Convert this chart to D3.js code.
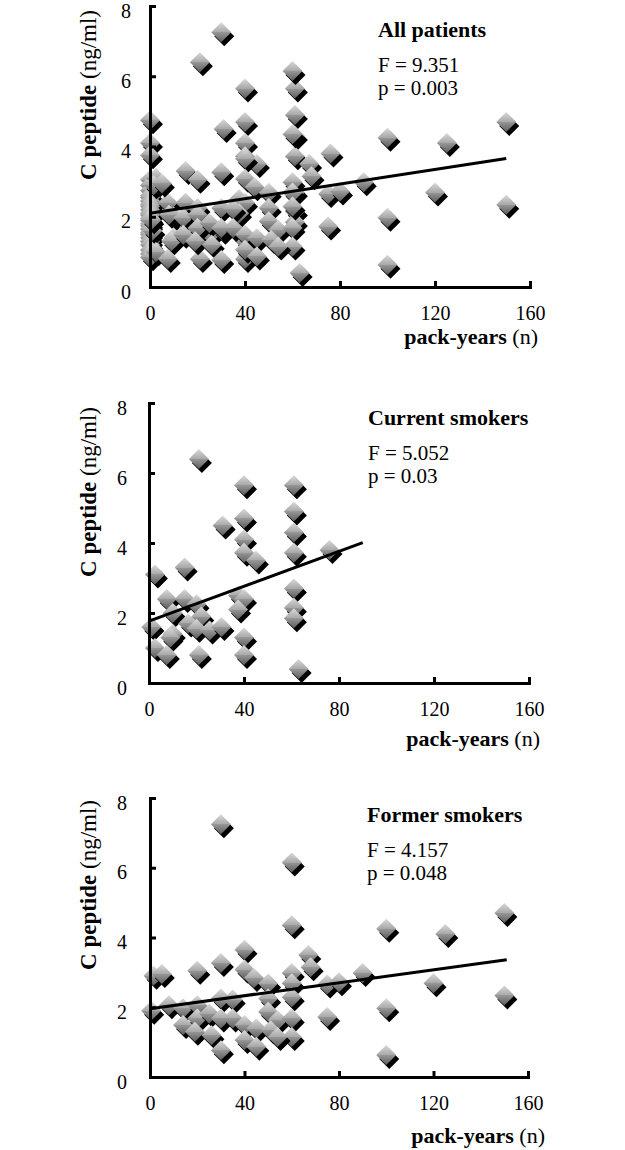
<!DOCTYPE html>
<html>
<head>
<meta charset="utf-8">
<script src="https://cdn.jsdelivr.net/npm/d3@7"></script>
<style>
  body { margin: 0; background: #fff; }
  svg { display: block; }
  .lbl { font-family: "Liberation Serif", "Times New Roman", serif; fill: #000; }
</style>
</head>
<body>
<script>
// C peptide (ng/ml) vs pack-years
// never smokers all sit at 0 pack-years
var neverSmokers = [4.75, 4.1, 3.75, 3.05, 2.9, 2.75, 2.6, 2.55, 2.45, 2.35, 2.3, 2.2, 2.1,
  2.05, 1.95, 1.9, 1.8, 1.75, 1.65, 1.55, 1.5, 1.4, 1.3, 1.2, 1.05, 0.95, 0.85];

var currentSmokers = [
  [21, 6.4], [40, 5.65], [61, 5.65], [61, 4.9], [40, 4.7], [31, 4.5], [40, 4.1], [61, 4.3],
  [40, 3.72], [45, 3.5], [61, 3.72], [76, 3.8], [2.5, 3.1], [15, 3.3], [7.5, 2.4], [15, 2.4],
  [20, 2.25], [10, 2.0], [22, 1.9], [37.5, 2.5], [40, 2.4], [37.5, 2.1], [61, 2.7], [61, 2.15],
  [61, 1.85], [1, 1.6], [16.5, 1.7], [20, 1.55], [25.5, 1.5], [30.5, 1.6], [10, 1.4], [9, 1.3],
  [2.5, 1.0], [7.5, 0.8], [21, 0.8], [40, 1.3], [40, 0.8], [63, 0.4]
];

var formerSmokers = [
  [30, 7.25], [60, 6.15], [60, 4.35], [100, 4.25], [125, 4.1], [150, 4.7], [40, 3.65], [67, 3.5],
  [68, 3.15], [1.5, 2.9], [5, 2.95], [20, 3.05], [30, 3.27], [40, 3.08], [44, 2.84], [60, 2.98],
  [50, 2.68], [60, 2.69], [75, 2.65], [80, 2.72], [90, 2.98], [120, 2.69], [150, 2.34], [0.5, 1.9],
  [8, 2.06], [14, 1.97], [20, 2.06], [30, 2.25], [35, 2.22], [50, 2.25], [60, 2.29], [100, 1.97],
  [75, 1.72], [14, 1.49], [20, 1.68], [25, 1.82], [30, 1.68], [35, 1.68], [40, 1.49], [45, 1.39],
  [50, 1.87], [54, 1.63], [51, 1.34], [60, 1.68], [60, 1.15], [54, 1.15], [19, 1.3], [26, 1.2],
  [40, 1.06], [45, 0.87], [30, 0.77], [100, 0.63]
];

var allPatients = neverSmokers.map(function(v) { return [0, v]; })
  .concat(currentSmokers, formerSmokers);

// regression lines (end points)
var fitAll = [[0, 2.1], [150, 3.66]];
var fitCurrent = [[0, 1.77], [90, 4.01]];
var fitFormer = [[0, 1.96], [151, 3.36]];

var panelTitles = ["All patients", "Current smokers", "Former smokers"];
var statF = ["F = 9.351", "F = 5.052", "F = 4.157"];
var statP = ["p = 0.003", "p = 0.03", "p = 0.048"];
var xTicks = [0, 40, 80, 120, 160];
var yTicks = [0, 2, 4, 6, 8];

var svg = d3.select("body").append("svg")
  .attr("width", 625)
  .attr("height", 1150);

// marker gradient
var defs = svg.append("defs");
var grad = defs.append("linearGradient")
  .attr("id", "dgrad")
  .attr("x1", 0).attr("y1", 0).attr("x2", 0).attr("y2", 1);
grad.append("stop").attr("offset", "0%").attr("stop-color", "#dadada");
grad.append("stop").attr("offset", "50%").attr("stop-color", "#a8a8a8");
grad.append("stop").attr("offset", "50%").attr("stop-color", "#979797");
grad.append("stop").attr("offset", "100%").attr("stop-color", "#5c5c5c");

var diamond = "M0,-10L10,0L0,10L-10,0Z";

var panels = [
  { data: allPatients, fit: fitAll, top: 6, bottom: 287, left: 150, right: 530,
    yPad: 19, titleX: 378, titleY: 37, axTitleX: 538, axTitleY: 344, yTitleY: 95 },
  { data: currentSmokers, fit: fitCurrent, top: 403, bottom: 683, left: 149, right: 529,
    yPad: 22, titleX: 368, titleY: 425, axTitleX: 540, axTitleY: 746, yTitleY: 492 },
  { data: formerSmokers, fit: fitFormer, top: 798, bottom: 1077, left: 150, right: 528,
    yPad: 23, titleX: 367, titleY: 822, axTitleX: 545, axTitleY: 1143, yTitleY: 885 }
];

panels.forEach(function(p, i) {
  var x = d3.scaleLinear().domain([0, 160]).range([p.left, p.right]);
  var y = d3.scaleLinear().domain([0, 8]).range([p.bottom, p.top]);
  var g = svg.append("g");

  // points: shadow + gradient diamond
  var pts = g.selectAll("g.pt")
    .data(p.data)
    .enter()
    .append("g")
    .attr("class", "pt")
    .attr("transform", d => `translate(${x(d[0])},${y(d[1])})`);
  pts.append("path")
    .attr("d", diamond)
    .attr("transform", "translate(3,4)")
    .attr("fill", "#000");
  pts.append("path")
    .attr("d", diamond)
    .attr("fill", "url(#dgrad)");

  // regression line
  g.append("path")
    .datum(p.fit)
    .attr("d", d3.line().x(d => x(d[0])).y(d => y(d[1])))
    .attr("fill", "none")
    .attr("stroke", "#000")
    .attr("stroke-width", 3);

  // axes
  var yAxis = g.append("g")
    .attr("transform", `translate(${p.left},0)`)
    .call(d3.axisLeft(y).tickValues(yTicks).tickSize(-6).tickSizeOuter(0).tickPadding(p.yPad));
  var xAxis = g.append("g")
    .attr("transform", `translate(0,${p.bottom})`)
    .call(d3.axisBottom(x).tickValues(xTicks).tickSize(-6).tickSizeOuter(0).tickPadding(19));
  [xAxis, yAxis].forEach(function(a) {
    a.attr("font-family", "Liberation Serif").attr("font-size", 20);
    a.select(".domain").attr("stroke-width", 3).attr("stroke-linecap", "square");
    a.selectAll(".tick line").attr("stroke-width", 3);
  });
  yAxis.selectAll(".tick text").attr("dy", "0.55em");
  xAxis.selectAll(".tick").filter(d => d === 0).select("line").remove();
  yAxis.selectAll(".tick").filter(d => d === 0).select("line").remove();

  // y axis title
  var yt = g.append("text")
    .attr("class", "lbl")
    .attr("transform", `translate(96,${p.yTitleY}) rotate(-90)`)
    .attr("text-anchor", "middle")
    .style("font-size", "23px");
  yt.append("tspan").attr("font-weight", "bold").text("C peptide");
  yt.append("tspan").text(" (ng/ml)");

  // x axis title
  var xt = g.append("text")
    .attr("class", "lbl")
    .attr("x", p.axTitleX)
    .attr("y", p.axTitleY)
    .attr("text-anchor", "end")
    .style("font-size", "22px");
  xt.append("tspan").attr("font-weight", "bold").text("pack-years");
  xt.append("tspan").text(" (n)");

  // panel title and stats
  g.append("text")
    .attr("class", "lbl")
    .attr("x", p.titleX)
    .attr("y", p.titleY)
    .attr("font-weight", "bold")
    .style("font-size", "22px")
    .text(panelTitles[i]);
  g.append("text")
    .attr("class", "lbl")
    .attr("x", p.titleX)
    .attr("y", p.titleY + 35)
    .style("font-size", "21px")
    .text(statF[i]);
  g.append("text")
    .attr("class", "lbl")
    .attr("x", p.titleX)
    .attr("y", p.titleY + 58)
    .style("font-size", "21px")
    .text(statP[i]);
});
</script>
</body>
</html>
